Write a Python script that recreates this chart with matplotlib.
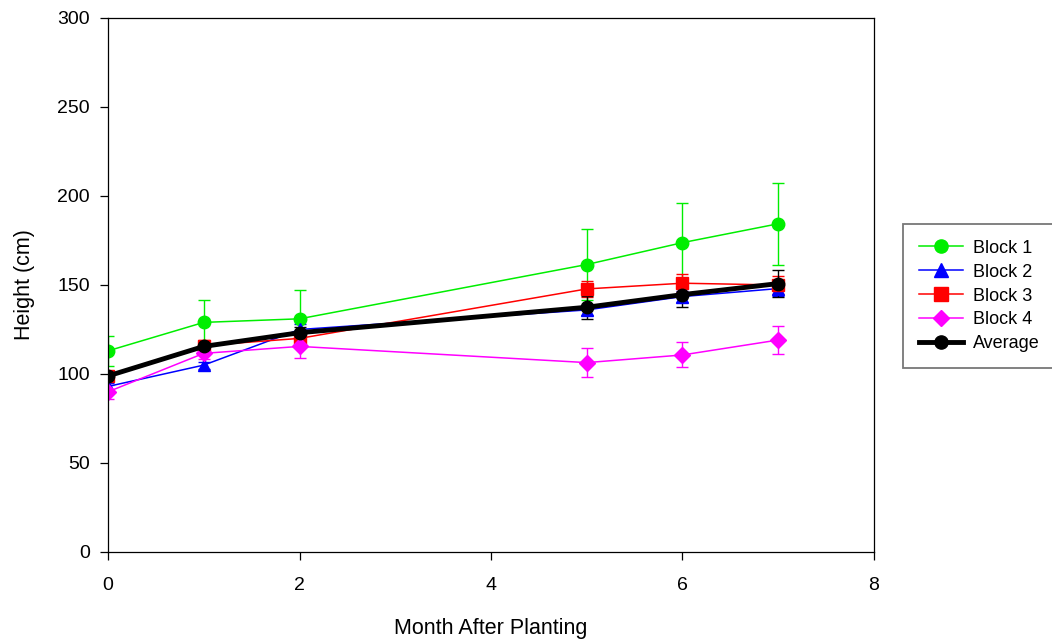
import numpy as np
import matplotlib.pyplot as plt
from matplotlib.lines import Line2D

plt.rcParams['font.family'] = ['Liberation Sans', 'DejaVu Sans']

# months after planting
months = [0, 1, 2, 5, 6, 7]

# mean heights (cm) and error bars per block
block1 = [113, 129, 131, 161.5, 173.8, 184.4]
block1_err = [8.5, 12.5, 16, 20, 22, 23]
block2 = [93, 105, 125, 136, 143.5, 148]
block2_err = [2, 2, 3, 3, 3, 4]
block3 = [99, 116, 120, 147.8, 151, 150]
block3_err = [2, 3, 3, 4.6, 5, 5]
block4 = [90, 111.6, 115.5, 106.4, 110.7, 119.1]
block4_err = [4, 3, 6.5, 8, 7, 8]
average = [98.9, 115.5, 123.2, 137.5, 144.6, 150.8]
average_err = [2, 3, 3, 6.6, 7, 7.4]

series = [
    ('Block 1', block1, block1_err, '#00ee00', 'o', 1.1),
    ('Block 2', block2, block2_err, '#0000ff', '^', 1.1),
    ('Block 3', block3, block3_err, '#ff0000', 's', 1.1),
    ('Block 4', block4, block4_err, '#ff00ff', 'D', 1.1),
    ('Average', average, average_err, '#000000', 'o', 3.5),
]

fig = plt.figure(figsize=(10.52, 6.43), dpi=100)
ax = fig.add_axes([108/1052, 1-552/643, (874-108)/1052, (552-18)/643])

handles = []
for name, vals, errs, col, mk, lw in series:
    ms = 8 if mk == 'D' else 9
    ax.errorbar(months, vals, yerr=errs, color=col, marker=mk, markersize=ms,
                linewidth=lw, elinewidth=1, capsize=4.5, capthick=1)
    handles.append(Line2D([], [], color=col, marker=mk, markersize=ms + 0.5, linewidth=lw, label=name))

ax.set_xlim(0, 8)
ax.set_ylim(0, 300)
ax.set_xticks([0, 2, 4, 6, 8])
ax.set_yticks([0, 50, 100, 150, 200, 250, 300])
ax.tick_params(labelsize=14, direction='out', length=6, width=0.9)
ax.tick_params(axis='y', pad=7)
ax.tick_params(axis='x', pad=12)
for s in ax.spines.values():
    s.set_linewidth(0.9)
ax.set_xlabel('Month After Planting', fontsize=15.5, labelpad=17)
ax.set_ylabel('Height (cm)', fontsize=15.5, labelpad=16)

leg = ax.legend(handles=handles, loc='center left', bbox_to_anchor=(903/1052, 1-296/643),
                bbox_transform=fig.transFigure, fontsize=13, frameon=True, fancybox=False,
                edgecolor='#555555', handlelength=2.4, handletextpad=0.55,
                borderpad=0.9, labelspacing=0.38, borderaxespad=0)
leg.get_frame().set_linewidth(1.3)

fig.savefig('out.png', dpi=100)
